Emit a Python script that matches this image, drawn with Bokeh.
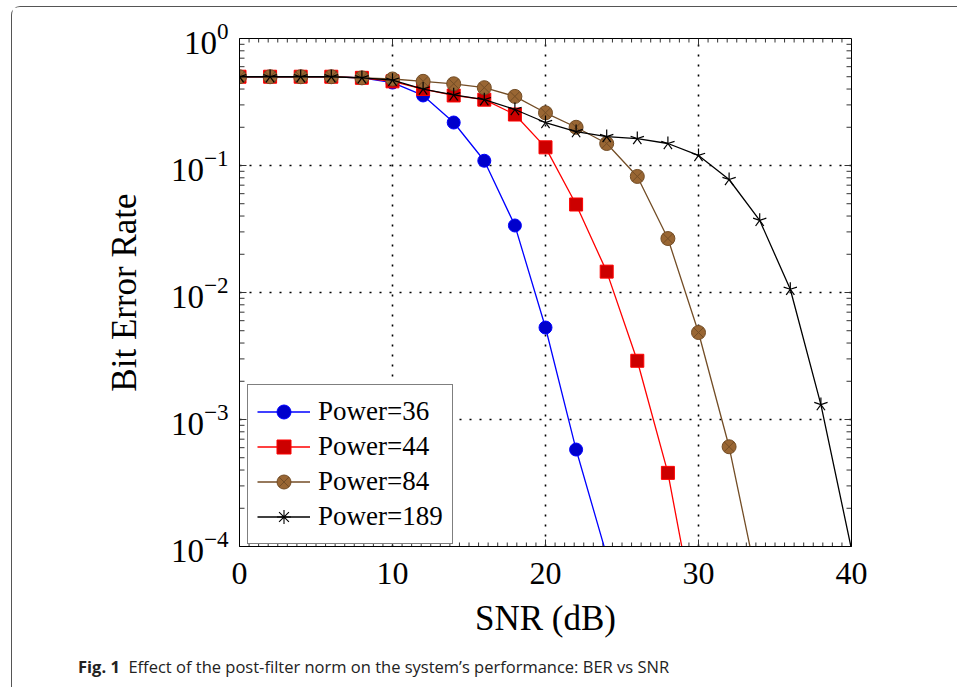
import numpy as np
from bokeh.plotting import figure
from bokeh.layouts import column
from bokeh.models import (ColumnDataSource, FixedTicker, LogTickFormatter, Legend, LegendItem,
                          Range1d, Div)
from bokeh.embed import file_html
from bokeh.resources import INLINE

snr = [0, 2, 4, 6, 8, 10, 12, 14, 16, 18, 20, 22, 24, 26, 28, 30, 32, 34, 36, 38, 40]

ber_36 = [0.50, 0.50, 0.50, 0.50, 0.49, 0.45, 0.356, 0.218, 0.109, 0.0337, 0.0053, 0.00058, 0.000085]
ber_44 = [0.50, 0.50, 0.50, 0.50, 0.49, 0.46, 0.40, 0.356, 0.33, 0.252, 0.139, 0.0493, 0.0146, 0.0029,
          0.00038, 0.00002]
ber_84 = [0.50, 0.50, 0.50, 0.50, 0.49, 0.48, 0.46, 0.44, 0.41, 0.35, 0.26, 0.20, 0.149, 0.082, 0.0266,
          0.00484, 0.00061, 0.000043]
ber_189 = [0.50, 0.50, 0.50, 0.50, 0.49, 0.47, 0.40, 0.36, 0.33, 0.276, 0.218, 0.185, 0.169, 0.163, 0.149,
           0.12, 0.0776, 0.037, 0.0106, 0.00131, 0.000095]

labels = ["Power=36", "Power=44", "Power=84", "Power=189"]
x_ticks = [0, 10, 20, 30, 40]
y_ticks = [1e-4, 1e-3, 1e-2, 1e-1, 1.0]
caption_bold = "Fig. 1"
caption_text = "Effect of the post-filter norm on the system\u2019s performance: BER vs SNR"

SERIF = "Liberation Serif"
X0, X1 = 0, 40
Y0, Y1 = 1e-4, 1.0

p = figure(width=944, height=655, y_axis_type="log", output_backend="svg", toolbar_location=None,
           x_range=Range1d(X0, X1), y_range=Range1d(Y0, Y1),
           min_border_left=227, min_border_right=105, min_border_top=31, min_border_bottom=116)
p.background_fill_color = "white"
p.border_fill_color = "white"
p.outline_line_color = "black"
p.outline_line_width = 1

for ax in (p.xaxis[0], p.yaxis[0]):
    ax.major_tick_in = 0
    ax.major_tick_out = 0
    ax.minor_tick_in = 0
    ax.minor_tick_out = 0
    ax.axis_line_color = "black"
    ax.major_label_text_font = SERIF
    ax.major_label_text_color = "black"
    ax.axis_label_text_font = SERIF
    ax.axis_label_text_font_style = "normal"
    ax.axis_label_text_color = "black"

xa = p.xaxis[0]
xa.ticker = FixedTicker(ticks=x_ticks)
xa.major_label_text_font_size = "32px"
xa.major_label_standoff = 16
xa.axis_label = "SNR (dB)"
xa.axis_label_text_font_size = "35px"
xa.axis_label_standoff = 12

ya = p.yaxis[0]
ya.ticker = FixedTicker(ticks=y_ticks)
ya.formatter = LogTickFormatter(min_exponent=0)
ya.major_label_text_font_size = "33px"
ya.major_label_standoff = 11
ya.axis_label = "Bit Error Rate"
ya.axis_label_text_font_size = "35px"
ya.axis_label_standoff = 24

# grid
p.xgrid.ticker = FixedTicker(ticks=x_ticks[1:-1])
p.ygrid.ticker = FixedTicker(ticks=y_ticks[1:-1])
for g in (p.xgrid[0], p.ygrid[0]):
    g.grid_line_color = "black"
    g.grid_line_dash = "2 8"
    g.grid_line_width = 1.6

# inward tick marks on all four sides
minor_x = [x_ticks[0] + i * 10 / 16 for i in range(1, 64) if i % 16 != 0]
major_x = x_ticks[1:-1]
minor_y = [k * 10.0 ** d for d in range(-4, 0) for k in range(2, 10)]
major_y = y_ticks[1:-1]
tick_rows = []
for xs, ln in ((minor_x, 4), (major_x, 7)):
    for xv in xs:
        tick_rows.append((xv, Y0, np.pi / 2, ln))
        tick_rows.append((xv, Y1, -np.pi / 2, ln))
for ys, ln in ((minor_y, 5), (major_y, 7)):
    for yv in ys:
        tick_rows.append((X0, yv, 0.0, ln))
        tick_rows.append((X1, yv, np.pi, ln))
tick_src = ColumnDataSource(dict(
    x=[r[0] for r in tick_rows], y=[r[1] for r in tick_rows],
    a=[r[2] for r in tick_rows], l=[r[3] for r in tick_rows]))
p.ray(x="x", y="y", angle="a", length="l", length_units="screen", source=tick_src,
      line_color="#333333", line_width=1)

# series
items = []
l1 = p.line(snr[:len(ber_36)], ber_36, line_color="#0000FF", line_width=1.3)
m1 = p.scatter(snr[:len(ber_36)], ber_36, marker="circle", size=13, fill_color="#0000CC",
               line_color="#0000FF", line_width=1)
items.append(LegendItem(label=labels[0], renderers=[l1, m1]))

l2 = p.line(snr[:len(ber_44)], ber_44, line_color="#FF0000", line_width=1.3)
m2 = p.scatter(snr[:len(ber_44)], ber_44, marker="square", size=13, fill_color="#CC0000",
               line_color="#FF0000", line_width=1)
items.append(LegendItem(label=labels[1], renderers=[l2, m2]))

l3 = p.line(snr[:len(ber_84)], ber_84, line_color="#734D26", line_width=1.3)
m3 = p.scatter(snr[:len(ber_84)], ber_84, marker="circle_x", size=14, fill_color="#996633",
               line_color="#734D26", line_width=1)
items.append(LegendItem(label=labels[2], renderers=[l3, m3]))

l4 = p.line(snr[:len(ber_189)], ber_189, line_color="black", line_width=1.3)
n4 = len(ber_189)
angles = [np.pi / 2 + k * 2 * np.pi / 5 for k in range(5)]
star_src = ColumnDataSource(dict(
    x=np.repeat(snr[:n4], 5),
    y=np.repeat(ber_189, 5),
    a=np.tile(angles, n4),
))
p.ray(x="x", y="y", angle="a", length=7, length_units="screen", source=star_src,
      line_color="black", line_width=1.2)
# marker used for the legend swatch (zero size in the plot itself, the 5-arm stars are drawn above)
m4 = p.scatter(snr[:n4], ber_189, marker="asterisk", size=0, line_color="black", line_width=1.1)
items.append(LegendItem(label=labels[3], renderers=[l4, m4]))

legend = Legend(items=items, location=(8, 2))
legend.label_text_font = SERIF
legend.label_text_font_size = "27px"
legend.label_text_color = "black"
legend.glyph_width = 53
legend.glyph_height = 35
legend.label_height = 35
legend.label_standoff = 8
legend.spacing = 0
legend.padding = 9
legend.margin = 0
legend.border_line_color = "black"
legend.border_line_width = 1
legend.background_fill_color = "white"
legend.background_fill_alpha = 1
p.add_layout(legend, "center")

cap = Div(
    text=('<div style="position:relative; top:-9px; padding-left:61px; '
          'font-family:\'Open Sans\', sans-serif; font-size:16.5px; '
          'line-height:17px; color:#222222; white-space:nowrap;">'
          f'<b>{caption_bold}</b>&nbsp;&nbsp;{caption_text}</div>'),
    width=944, height=24)

layout = column(p, cap, margin=(6, 0, 0, 11), spacing=0,
                styles={"border-top": "1.5px solid #555555", "border-left": "1.5px solid #555555",
                        "border-top-left-radius": "9px"})

open("out.html", "w").write(file_html(layout, INLINE))
